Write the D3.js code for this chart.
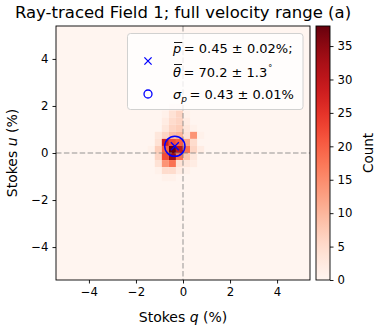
<!DOCTYPE html>
<html>
<head>
<meta charset="utf-8">
<script src="https://cdnjs.cloudflare.com/ajax/libs/d3/7.8.5/d3.min.js"></script>
<style>
  body { margin: 0; background: #fff; }
  svg { font-family: "DejaVu Sans", sans-serif; }
</style>
</head>
<body>
<div id="chart"></div>
<script>
// lower edges of the 0.3% bins that hold counts
var qBins = [-1.5, -1.2, -0.9, -0.6, -0.3, 0, 0.3, 0.6];
var uBins = [1.8, 1.5, 1.2, 0.9, 0.6, 0.3, 0, -0.3, -0.6, -0.9, -1.2];
var counts = [
  [0, 0, 0, 2, 2, 0, 0, 0],
  [0, 0, 1, 4, 6, 1, 0, 0],
  [0, 0, 2, 5, 6, 2, 0, 0],
  [0, 0, 3, 6, 7, 3, 1, 0],
  [0, 3, 6, 9, 10, 4, 14, 1],
  [0, 4, 28, 22, 20, 12, 5, 0],
  [1, 7, 20, 38, 30, 18, 6, 2],
  [0, 6, 22, 34, 18, 8, 3, 0],
  [0, 4, 14, 18, 4, 3, 2, 0],
  [0, 1, 5, 5, 2, 1, 0, 0],
  [0, 0, 1, 1, 0, 0, 0, 0]
];
var binWidth = 0.3;
var axisTicks = [-4, -2, 0, 2, 4];
var cbarTicks = [0, 5, 10, 15, 20, 25, 30, 35];
var countMax = 38;
var pMean = 0.45, thetaMean = 70.2, sigmaP = 0.43;
var legendLines = ["= 0.45 \u00b1 0.02%;", "= 70.2 \u00b1 1.3", "= 0.43 \u00b1 0.01%"];

var width = 389, height = 330;
var pL = 56, pR = 310, pT = 26, pB = 280;

var svg = d3.select("#chart").append("svg")
  .attr("width", width)
  .attr("height", height);

var x = d3.scaleLinear().domain([-5.4, 5.4]).range([pL, pR]);
var y = d3.scaleLinear().domain([-5.4, 5.4]).range([pB, pT]);
var color = d3.scaleSequential(d3.interpolateReds).domain([0, countMax]);

// background = zero count
svg.append("rect")
  .attr("x", pL).attr("y", pT)
  .attr("width", pR - pL).attr("height", pB - pT)
  .attr("fill", color(0));

var cells = [];
uBins.forEach(function(u, i) {
  qBins.forEach(function(q, j) {
    if (counts[i][j] > 0) cells.push({ q: q, u: u, c: counts[i][j] });
  });
});

svg.append("g").selectAll("rect")
  .data(cells)
  .enter().append("rect")
    .attr("x", function(d) { return x(d.q); })
    .attr("y", function(d) { return y(d.u + binWidth); })
    .attr("width", x(binWidth) - x(0))
    .attr("height", y(0) - y(binWidth))
    .attr("fill", function(d) { return color(d.c); });

// zero lines
var zl = svg.append("g")
  .attr("stroke", "#808080")
  .attr("stroke-opacity", 0.55)
  .attr("stroke-width", 1.5)
  .attr("stroke-dasharray", "5.5,2.4");
zl.append("line")
  .attr("x1", x(0)).attr("x2", x(0)).attr("y1", pT).attr("y2", pB);
zl.append("line")
  .attr("x1", pL).attr("x2", pR).attr("y1", y(0)).attr("y2", y(0));

// mean marker and sigma circle
var tt = 2 * thetaMean * Math.PI / 180;
var qm = pMean * Math.cos(tt), um = pMean * Math.sin(tt);
var cx = x(qm), cy = y(um);
function cross(g, px, py, s) {
  g.append("path")
    .attr("d", "M" + (px - s) + "," + (py - s) + "L" + (px + s) + "," + (py + s) +
               "M" + (px - s) + "," + (py + s) + "L" + (px + s) + "," + (py - s))
    .attr("stroke", "blue").attr("stroke-width", 1.3).attr("fill", "none");
}
cross(svg, cx, cy, 4);
svg.append("circle")
  .attr("cx", cx).attr("cy", cy)
  .attr("r", x(sigmaP) - x(0))
  .attr("fill", "none").attr("stroke", "blue").attr("stroke-width", 1.5);

// frame
svg.append("rect")
  .attr("x", pL).attr("y", pT)
  .attr("width", pR - pL).attr("height", pB - pT)
  .attr("fill", "none").attr("stroke", "#000").attr("stroke-width", 0.9);

var fmt = function(d) { return d < 0 ? "\u2212" + Math.abs(d) : d; };
var xAxis = svg.append("g")
  .attr("transform", "translate(0," + pB + ")")
  .call(d3.axisBottom(x).tickValues(axisTicks).tickFormat(fmt).tickSize(3.5).tickPadding(4));
var yAxis = svg.append("g")
  .attr("transform", "translate(" + pL + ",0)")
  .call(d3.axisLeft(y).tickValues(axisTicks).tickFormat(fmt).tickSize(3.5).tickPadding(4));
[xAxis, yAxis].forEach(function(a) {
  a.select(".domain").remove();
  a.selectAll("text").attr("font-size", "11.7px").attr("font-family", "DejaVu Sans").attr("fill", "#000");
  a.selectAll("line").attr("stroke", "#000").attr("stroke-width", 0.9);
});

// title and labels
svg.append("text")
  .attr("x", (pL + pR) / 2).attr("y", 18)
  .attr("text-anchor", "middle").attr("font-size", "16.5px")
  .text("Ray-traced Field 1; full velocity range (a)");

var xl = svg.append("text")
  .attr("x", (pL + pR) / 2).attr("y", 322)
  .attr("text-anchor", "middle").attr("font-size", "14px");
xl.append("tspan").text("Stokes ");
xl.append("tspan").attr("font-style", "italic").text("q");
xl.append("tspan").text(" (%)");

var yl = svg.append("text")
  .attr("transform", "translate(17," + ((pT + pB) / 2) + ") rotate(-90)")
  .attr("text-anchor", "middle").attr("font-size", "14px");
yl.append("tspan").text("Stokes ");
yl.append("tspan").attr("font-style", "italic").text("u");
yl.append("tspan").text(" (%)");

// legend
var lg = svg.append("g");
lg.append("rect")
  .attr("x", 127.5).attr("y", 33.5).attr("width", 175.5).attr("height", 76)
  .attr("rx", 3)
  .attr("fill", "#fff").attr("fill-opacity", 0.8)
  .attr("stroke", "#ccc").attr("stroke-width", 0.9);
cross(lg, 148, 61, 3.6);
lg.append("circle")
  .attr("cx", 148).attr("cy", 94).attr("r", 4)
  .attr("fill", "none").attr("stroke", "blue").attr("stroke-width", 1.3);

var tx = 173;
var baselines = [53, 77, 98.5];
function mathLine(sym, rest, yb, overline, sub, deg) {
  var t = lg.append("text").attr("x", tx).attr("y", yb).attr("font-size", "13px");
  var s = t.append("tspan").attr("font-style", "italic").text(sym);
  if (sub) t.append("tspan").attr("font-style", "italic").attr("font-size", "9px").attr("dy", 3).text(sub);
  var r = t.append("tspan").attr("dx", 2.5).text(rest);
  if (sub) r.attr("dy", -3);
  if (deg) t.append("tspan").attr("font-size", "8px").attr("dy", -6).attr("dx", 1).text("\u00b0");
  if (overline) {
    var w = s.node().getComputedTextLength();
    lg.append("line")
      .attr("x1", tx + 1).attr("x2", tx + w + 1)
      .attr("y1", yb - overline).attr("y2", yb - overline)
      .attr("stroke", "#000").attr("stroke-width", 0.9);
  }
}
mathLine("p", legendLines[0], baselines[0], 10.5, null, false);
mathLine("\u03b8", legendLines[1], baselines[1], 12.5, null, true);
mathLine("\u03c3", legendLines[2], baselines[2], 0, "p", false);

// colorbar
var cbLeft = 316, cbWidth = 14;
var cScale = d3.scaleLinear().domain([0, countMax]).range([pB, pT]);
var defs = svg.append("defs");
var grad = defs.append("linearGradient").attr("id", "cb")
  .attr("x1", 0).attr("y1", 1).attr("x2", 0).attr("y2", 0);
d3.range(0, 1.0001, 0.05).forEach(function(t) {
  grad.append("stop").attr("offset", t).attr("stop-color", d3.interpolateReds(t));
});
svg.append("rect")
  .attr("x", cbLeft).attr("y", pT).attr("width", cbWidth).attr("height", pB - pT)
  .attr("fill", "url(#cb)").attr("stroke", "#000").attr("stroke-width", 0.9);
var cAxis = svg.append("g")
  .attr("transform", "translate(" + (cbLeft + cbWidth) + ",0)")
  .call(d3.axisRight(cScale).tickValues(cbarTicks).tickSize(3.5).tickPadding(4));
cAxis.select(".domain").remove();
cAxis.selectAll("text").attr("font-size", "11.7px").attr("font-family", "DejaVu Sans").attr("fill", "#000");
cAxis.selectAll("line").attr("stroke", "#000").attr("stroke-width", 0.9);

svg.append("text")
  .attr("transform", "translate(373," + ((pT + pB) / 2) + ") rotate(-90)")
  .attr("text-anchor", "middle").attr("font-size", "13.5px")
  .text("Count");
</script>
</body>
</html>
